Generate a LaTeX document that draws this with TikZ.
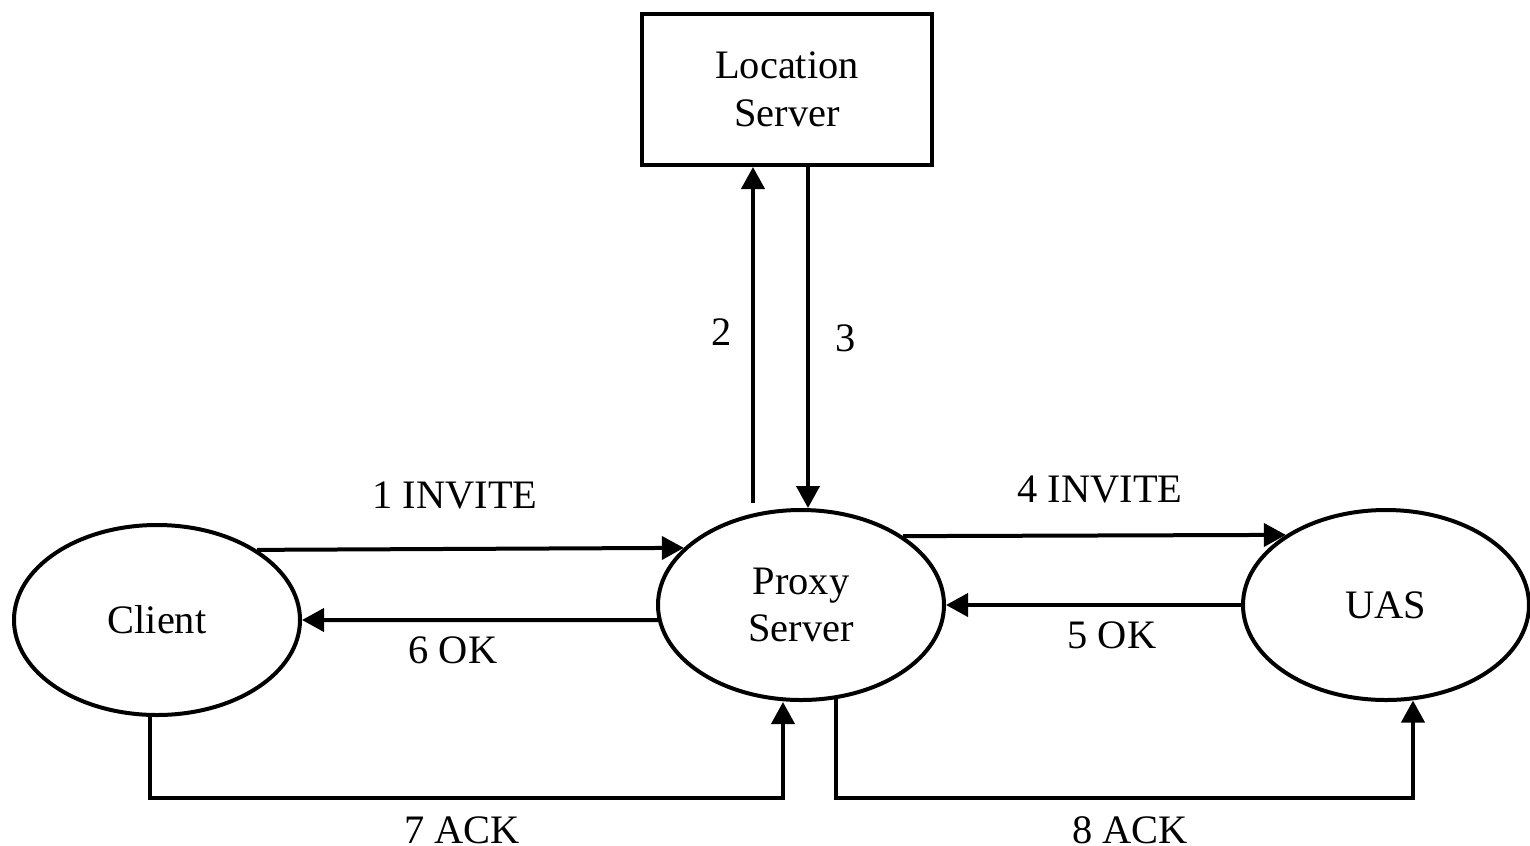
\documentclass[tikz,border=0pt]{standalone}
\usepackage{fontspec}
\setmainfont{Liberation Serif}
\usetikzlibrary{arrows.meta,shapes.geometric}

\begin{document}
\begin{tikzpicture}[x=0.2mm,y=-0.2mm]
    \providecommand{\diagfontsize}{\fontsize{23pt}{27pt}\selectfont}
    \tikzset{
        agent/.style={ellipse,draw,line width=0.8mm,minimum width=57.2mm,minimum height=38mm,inner sep=0,align=center,font=\diagfontsize},
        server/.style={rectangle,draw,line width=0.8mm,minimum width=58mm,minimum height=30.2mm,inner sep=0,align=center,font=\diagfontsize},
        msg/.style={line width=0.8mm,-{Triangle[width=4.6mm,length=4.4mm]}},
        msglabel/.style={font=\diagfontsize,inner sep=0}
    }
    \useasboundingbox (0,0) rectangle (1530,845);
    \node[server] (loc) at (787,89.5) {Location\\Server};
    \node[agent] (client) at (157,620) {Client};
    \node[agent] (proxy) at (801,605) {Proxy\\Server};
    \node[agent] (uas) at (1386,605) {UAS};
    \coordinate (ackline) at (0,798);
    % lookup at the location server
    \coordinate (up2) at ([xshift=-9.6mm,yshift=1mm]proxy.north);
    \coordinate (dn3) at ([xshift=1.4mm]proxy.north);
    \draw[msg] (up2) -- (up2 |- loc.south);
    \draw[msg] (dn3 |- loc.south) -- (dn3);
    \node[msglabel] (l2) at (722,332) {2};
    \node[msglabel] (l3) at (846,338) {3};
    % invite and ok
    \draw[msg] (client.35.8) -- (proxy.154.8);
    \draw[msg] (proxy.186.1) -- (client.east);
    \draw[msg] (proxy.34.2) -- (uas.145.8);
    \draw[msg] (uas.west) -- (proxy.east);
    \node[msglabel] (l1) at (455,495) {1 INVITE};
    \node[msglabel] (l6) at (453,650) {6 OK};
    \node[msglabel] (l4) at (1100,489) {4 INVITE};
    \node[msglabel] (l5) at (1112,635) {5 OK};
    % acks
    \coordinate (c7) at ([xshift=-1.4mm]client.south);
    \coordinate (p7) at ([xshift=-3.6mm]proxy.south);
    \coordinate (p8) at ([xshift=7mm,yshift=0.6mm]proxy.south);
    \coordinate (u8) at ([xshift=5.4mm,yshift=0.3mm]uas.south);
    \draw[msg] (c7) -- (c7 |- ackline) -- (p7 |- ackline) -- (p7);
    \draw[msg] (p8) -- (p8 |- ackline) -- (u8 |- ackline) -- (u8);
    \node[msglabel] (l7) at (462,830) {7 ACK};
    \node[msglabel] (l8) at (1130,830) {8 ACK};
\end{tikzpicture}
\end{document}
